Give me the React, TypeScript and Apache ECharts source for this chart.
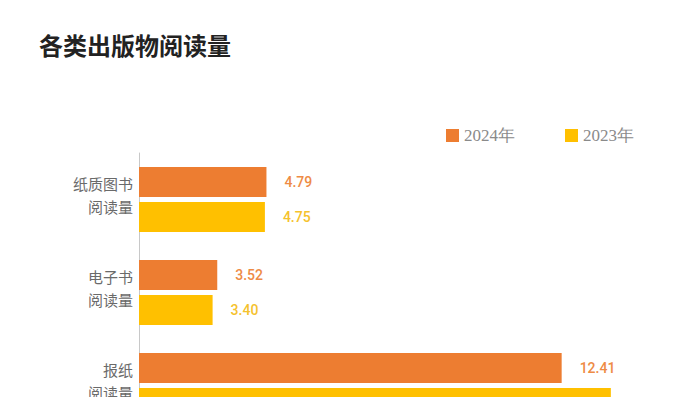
import React, { useEffect, useRef } from "react";
import * as echarts from "echarts";

const categories = ["纸质图书\n阅读量", "电子书\n阅读量", "报纸\n阅读量"];
const seriesNames = ["2024年", "2023年"];
const values2024 = [4.79, 3.52, 12.41];
const values2023 = [4.75, 3.4, 13.68];

export default function App() {
  const ref = useRef<HTMLDivElement>(null);
  useEffect(() => {
    if (!ref.current) return;
    const chart = echarts.init(ref.current, undefined, { renderer: "svg" });
    const labelFont = "Roboto, 'Noto Sans', sans-serif";
    chart.setOption({
      animation: false,
      backgroundColor: "#ffffff",
      title: {
        text: "各类出版物阅读量",
        left: 39,
        top: 32,
        padding: 0,
        textStyle: {
          fontSize: 24,
          fontWeight: "bold",
          color: "#222222",
          fontFamily: "'Noto Sans CJK SC', sans-serif",
        },
      },
      legend: {
        data: seriesNames,
        left: 446,
        top: 127,
        icon: "rect",
        itemWidth: 13,
        itemHeight: 13,
        itemGap: 50,
        padding: 0,
        textStyle: {
          fontSize: 17,
          color: "#8a8a8a",
          fontFamily: "'Liberation Serif', serif",
          padding: [0, 0, 4, 0],
        },
      },
      grid: { left: 139, right: 31, top: 153, bottom: 8, containLabel: false },
      xAxis: {
        type: "value",
        min: 1.5,
        max: 15,
        show: false,
      },
      yAxis: {
        type: "category",
        data: categories,
        inverse: true,
        axisLine: { show: true, lineStyle: { color: "#c8c8c8", width: 1 } },
        axisTick: { show: false },
        axisLabel: {
          margin: 6,
          fontSize: 15,
          lineHeight: 23,
          color: "#6a6a6a",
          align: "right",
          fontFamily: "'Noto Sans CJK SC', sans-serif",
          formatter: (v: string) => v + "\n{s| }",
          rich: { s: { fontSize: 1, lineHeight: 10 } },
        },
      },
      series: [
        {
          name: seriesNames[0],
          type: "bar",
          data: values2024,
          barWidth: 30,
          barGap: "17%",
          itemStyle: { color: "#ED7D31" },
          label: {
            show: true,
            position: "right",
            distance: 18,
            fontSize: 14,
            fontWeight: 500,
            color: "#EE8B45",
            fontFamily: labelFont,
            formatter: (p: any) => p.value.toFixed(2),
          },
        },
        {
          name: seriesNames[1],
          type: "bar",
          data: values2023,
          barWidth: 30,
          itemStyle: { color: "#FFC000" },
          label: {
            show: true,
            position: "right",
            distance: 18,
            fontSize: 14,
            fontWeight: 500,
            color: "#F5C22E",
            fontFamily: labelFont,
            formatter: (p: any) => p.value.toFixed(2),
          },
        },
      ],
    });
    return () => chart.dispose();
  }, []);
  return (
    <div
      style={{
        position: "fixed",
        left: 0,
        top: 0,
        width: 693,
        height: 397,
        overflow: "hidden",
        background: "#fff",
      }}
    >
      <div ref={ref} style={{ width: 693, height: 440 }} />
    </div>
  );
}
